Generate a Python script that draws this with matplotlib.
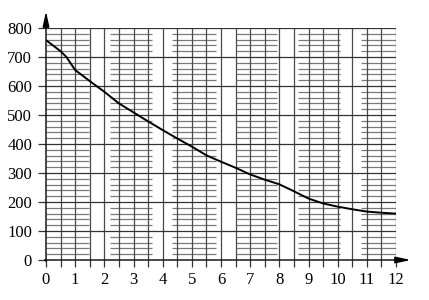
import matplotlib
matplotlib.use("Agg")
import matplotlib.pyplot as plt
import numpy as np

# Data
x_vals = [0, 0.25, 0.5, 0.7, 1, 1.5, 2, 2.5, 3, 3.5, 4, 4.5, 5, 5.5, 6,
          6.5, 7, 7.5, 8, 8.5, 9, 9.5, 10, 10.5, 11, 11.5, 12]
y_vals = [758, 739, 720, 700, 655, 617, 580, 540, 509, 478, 448, 419, 391,
          361, 339, 318, 295, 277, 261, 237, 212, 195, 184, 175, 167, 163, 160]
x_ticks = list(range(0, 13))
y_ticks = list(range(0, 801, 100))

# grid band decoration (fine horizontal rulings)
band_starts = [0, 2.2, 4.33, 6.5, 8.64, 10.79]
band_ends = [1.48, 3.62, 5.83, 7.93, 10.08, 12]

plt.rcParams['font.family'] = ['Liberation Serif', 'DejaVu Serif']

fig = plt.figure(figsize=(4.29, 3.0), dpi=100)
ax = fig.add_axes([46/429, 40/300, 350/429, 232/300])
ax.set_xlim(0, 12)
ax.set_ylim(0, 800)
for s in ax.spines.values():
    s.set_visible(False)

minor_col = '#7a7a7a'
major_col = '#333333'

# minor horizontal lines in bands
minor_y = [v for v in range(20, 800, 20) if v % 100 != 0]
for a, b in zip(band_starts, band_ends):
    ax.hlines(minor_y, a, b, colors=minor_col, lw=0.9, zorder=1)

# vertical lines every 0.5
vx = np.arange(0, 12.01, 0.5)
ax.vlines(vx[1:], 0, 800, colors='#4a4a4a', lw=0.9, zorder=2)
# major horizontal lines
ax.hlines(y_ticks[1:], 0, 12, colors=major_col, lw=0.9, zorder=2)

# ticks
ax.set_xticks(x_ticks)
ax.set_xticks(vx, minor=True)
ax.set_yticks(y_ticks)
ax.tick_params(axis='both', which='both', direction='out', color='#333333', width=0.9)
ax.tick_params(axis='x', which='both', length=5, pad=4, labelsize=12)
ax.tick_params(axis='y', which='major', length=6, pad=4, labelsize=12)

# axes with arrows
ax.annotate('', xy=(12.5, 0), xytext=(-0.05, 0), xycoords='data',
            arrowprops=dict(arrowstyle='-|>,head_length=0.9,head_width=0.2',
                            color='black', lw=1.0, shrinkA=0, shrinkB=0),
            annotation_clip=False)
ax.annotate('', xy=(0, 857), xytext=(0, -5), xycoords='data',
            arrowprops=dict(arrowstyle='-|>,head_length=0.9,head_width=0.2',
                            color='black', lw=1.0, shrinkA=0, shrinkB=0),
            annotation_clip=False)

# curve
ax.plot(x_vals, y_vals, color='black', lw=1.4, zorder=5)

fig.savefig('out.png', dpi=100)
